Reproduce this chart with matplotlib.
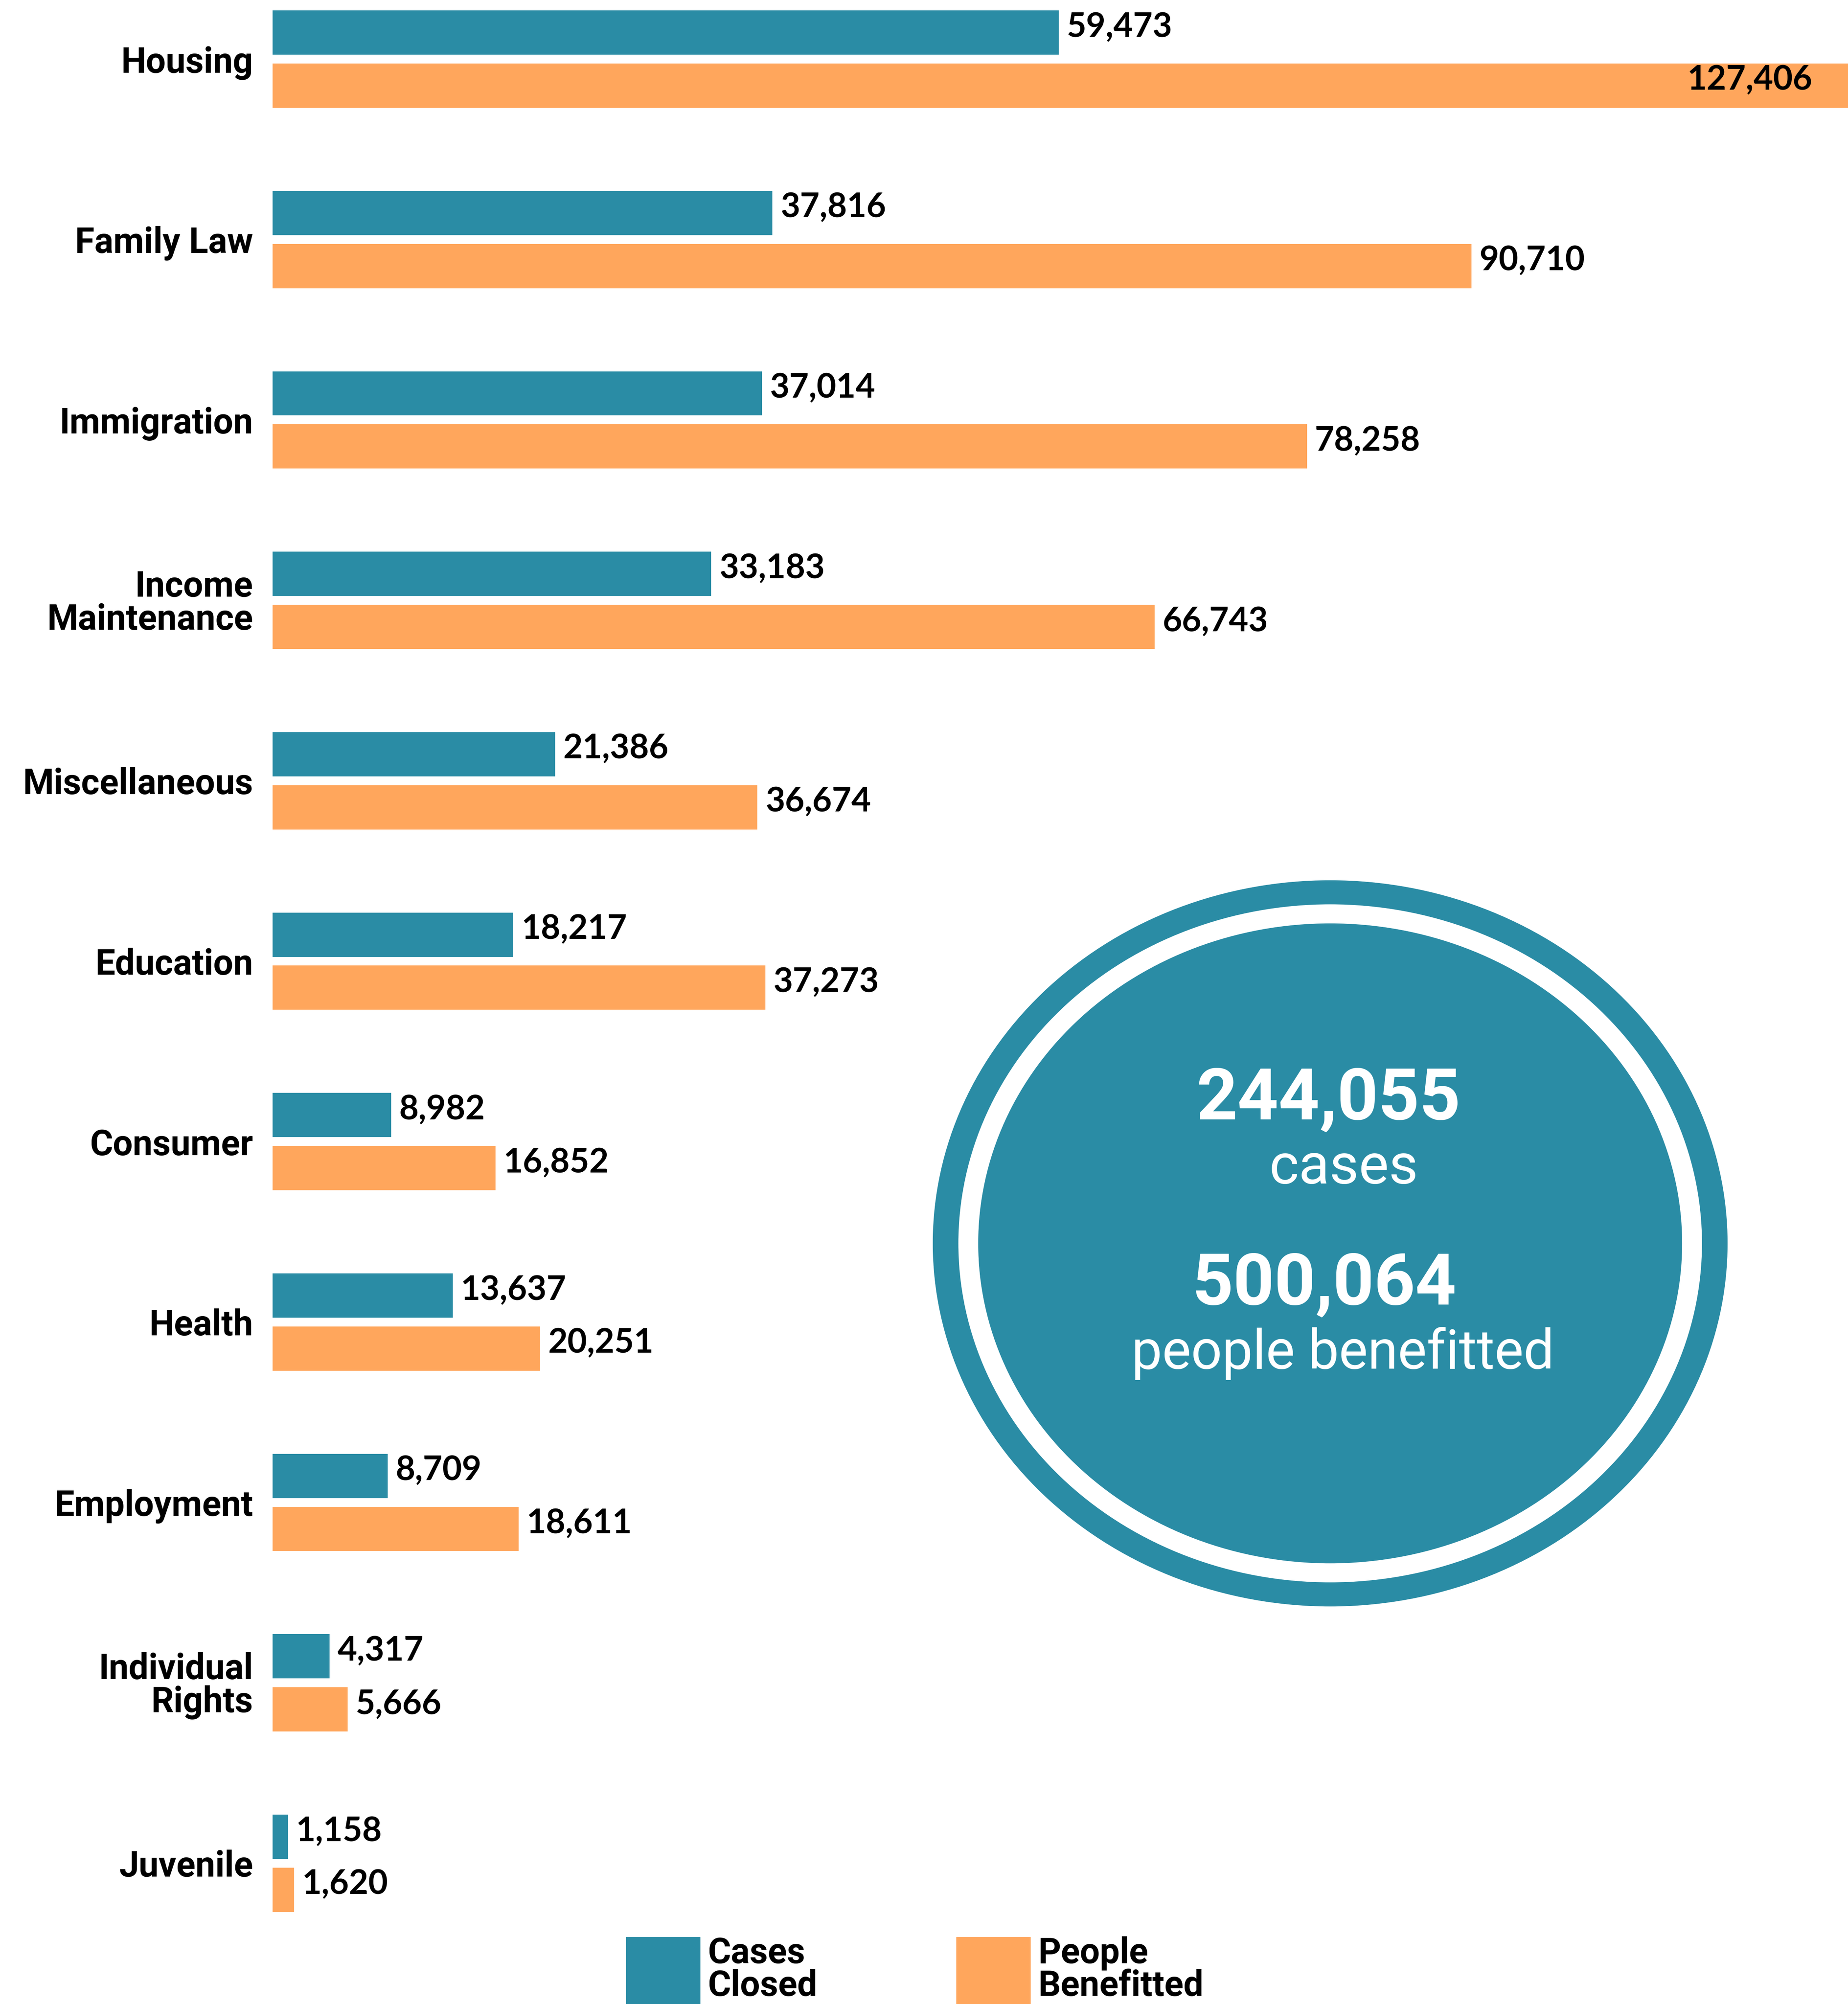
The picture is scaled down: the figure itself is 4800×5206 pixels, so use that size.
import numpy as np
import matplotlib

matplotlib.use("Agg")
import matplotlib.pyplot as plt
from matplotlib.patches import Ellipse, Rectangle

categories = [
    "Housing",
    "Family Law",
    "Immigration",
    "Income\nMaintenance",
    "Miscellaneous",
    "Education",
    "Consumer",
    "Health",
    "Employment",
    "Individual\nRights",
    "Juvenile",
]
cases_closed = [59473, 37816, 37014, 33183, 21386, 18217, 8982, 13637, 8709, 4317, 1158]
people_benefitted = [127406, 90710, 78258, 66743, 36674, 37273, 16852, 20251, 18611, 5666, 1620]
total_cases = 244055
total_people = 500064
legend_labels = ["Cases\nClosed", "People\nBenefitted"]

TEAL = "#2A8CA5"
ORANGE = "#FFA65C"

W, H = 4800, 5206
fig = plt.figure(figsize=(W / 100, H / 100), dpi=100)

# bars start at x=708px, one category every ~468.7px
left = 708
pitch = 468.7
top = -153.5 / pitch
xmax = 119200

ax = fig.add_axes([left / W, 0, 1 - left / W, 1])
ax.set_ylim(top + H / pitch, top)
ax.set_xlim(0, xmax)

y = np.arange(len(categories))
bar_h = 0.245
off = 0.147
ax.barh(y - off, cases_closed, height=bar_h, color=TEAL)
ax.barh(y + off, people_benefitted, height=bar_h, color=ORANGE)

gap = 600
val_font = dict(fontfamily="Lato", fontweight="bold", fontsize=63, color="black")
for i in range(len(categories)):
    for v, yy in ((cases_closed[i], y[i] - off), (people_benefitted[i], y[i] + off)):
        if v > xmax:
            # bar runs off the page, label goes inside
            ax.text(xmax - 2700, yy - 0.03, f"{v:,}", ha="right", va="center", **val_font)
        else:
            ax.text(v + gap, yy - 0.03, f"{v:,}", ha="left", va="center", **val_font)

ax.set_yticks(y)
ax.set_yticklabels(categories, fontfamily="Roboto", fontweight="bold", fontsize=66, linespacing=0.95)
ax.tick_params(left=False, bottom=False, labelbottom=False, pad=33)
for s in ax.spines.values():
    s.set_visible(False)

# overlay in pixel coordinates for the badge and legend
ov = fig.add_axes([0, 0, 1, 1])
ov.set_xlim(0, W)
ov.set_ylim(H, 0)
ov.axis("off")
ov.patch.set_alpha(0)

cx, cy = 3455, 3230
ov.add_patch(Ellipse((cx, cy), 2063, 1885, color=TEAL))
ov.add_patch(Ellipse((cx, cy), 1930, 1760, color="white"))
ov.add_patch(Ellipse((cx, cy), 1827, 1661, color=TEAL))

ov.text(3451, 2907, f"{total_cases:,}", ha="center", va="baseline",
        fontfamily="Roboto", fontweight="bold", fontsize=134, color="white")
ov.text(3490, 3075, "cases", ha="center", va="baseline",
        fontfamily="Roboto", fontsize=106, color="white")
ov.text(3439, 3388, f"{total_people:,}", ha="center", va="baseline",
        fontfamily="Roboto", fontweight="bold", fontsize=134, color="white")
ov.text(3488, 3556, "people benefitted", ha="center", va="baseline",
        fontfamily="Roboto", fontsize=102, color="white")

# legend
for x0, col, lab in ((1626, TEAL, legend_labels[0]), (2484, ORANGE, legend_labels[1])):
    ov.add_patch(Rectangle((x0, 5032), 192, 300, color=col, clip_on=True))
    ov.text(x0 + 212, 5030, lab, ha="left", va="top", fontfamily="Roboto",
            fontweight="bold", fontsize=66, linespacing=0.95, color="black")

fig.savefig("out.png", dpi=100)
